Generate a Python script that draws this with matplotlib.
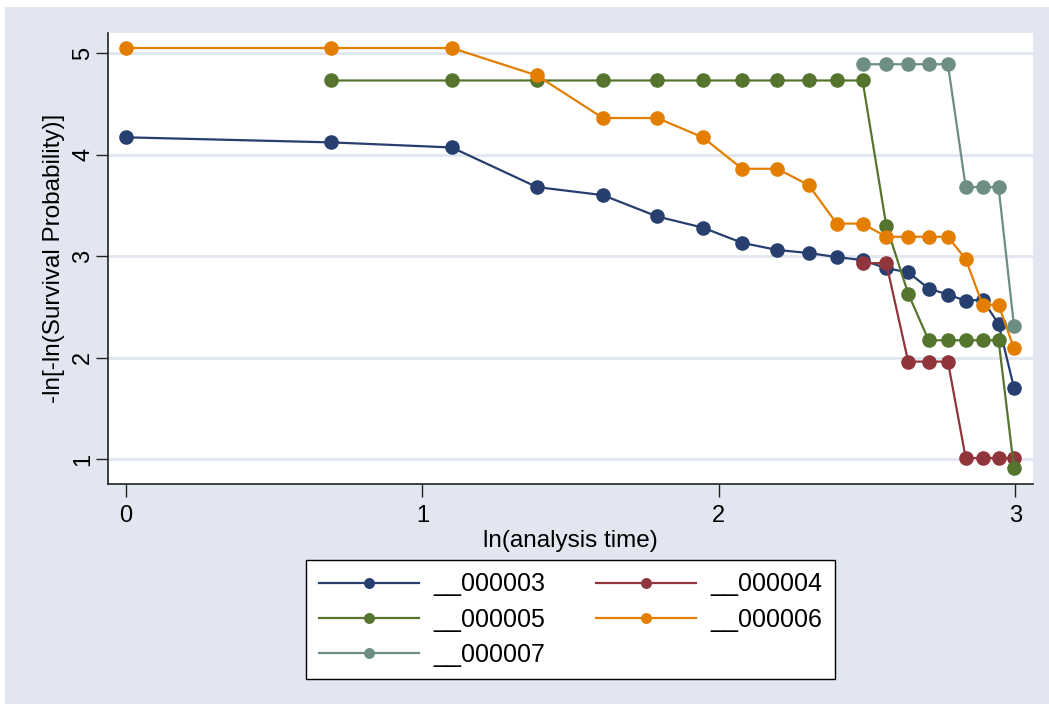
import matplotlib
matplotlib.use("Agg")
import matplotlib.pyplot as plt
from matplotlib.patches import Rectangle

plt.rcParams['font.family'] = ['Liberation Sans', 'DejaVu Sans']

# ln(analysis time) values
lnt = [0.0, 0.693, 1.099, 1.386, 1.609, 1.792, 1.946, 2.079, 2.197, 2.303,
       2.398, 2.485, 2.565, 2.639, 2.708, 2.773, 2.833, 2.890, 2.944, 2.996]

s003 = [4.17, 4.12, 4.07, 3.68, 3.60, 3.39, 3.28, 3.13, 3.06, 3.03,
        2.99, 2.96, 2.88, 2.84, 2.68, 2.62, 2.56, 2.57, 2.33, 1.70]
s004_x = lnt[11:]
s004 = [2.93, 2.93, 1.96, 1.96, 1.96, 1.01, 1.01, 1.01, 1.01]
s005_x = lnt[1:]
s005 = [4.73, 4.73, 4.73, 4.73, 4.73, 4.73, 4.73, 4.73, 4.73, 4.73,
        4.73, 3.30, 2.63, 2.17, 2.17, 2.17, 2.17, 2.17, 0.91]
s006 = [5.05, 5.05, 5.05, 4.78, 4.36, 4.36, 4.17, 3.86, 3.86, 3.70,
        3.32, 3.32, 3.19, 3.19, 3.19, 3.19, 2.97, 2.52, 2.52, 2.09]
s007_x = lnt[11:]
s007 = [4.89, 4.89, 4.89, 4.89, 4.89, 3.68, 3.68, 3.68, 2.31]

names = ["__000003", "__000004", "__000005", "__000006", "__000007"]
colors = ["#263f6e", "#90353b", "#55752f", "#e37e00", "#6e8e84"]
series = [(lnt, s003), (s004_x, s004), (s005_x, s005), (lnt, s006), (s007_x, s007)]

bg = "#e1e6f0"
fig = plt.figure(figsize=(10.49, 7.04), dpi=100, facecolor=bg)
# thin white strips on the top and left edges, like the Stata export
fig.patches.append(Rectangle((0, 0), 5 / 1049, 1, transform=fig.transFigure,
                             facecolor='white', edgecolor='none'))
fig.patches.append(Rectangle((0, 1 - 7 / 704), 1, 7 / 704, transform=fig.transFigure,
                             facecolor='white', edgecolor='none'))

ax = fig.add_axes([0.103, 0.3125, 0.882, 0.6405])
ax.set_facecolor("white")

lines = []
for (x, y), name, c in zip(series, names, colors):
    ln, = ax.plot(x, y, color=c, lw=1.6, marker='o', markersize=10.5,
                  markeredgewidth=0, label=name, zorder=3)
    lines.append(ln)

ax.set_xlim(-0.061, 3.061)
ax.set_ylim(0.754, 5.197)
ax.set_xticks([0, 1, 2, 3])
ax.set_yticks([1, 2, 3, 4, 5])
ax.grid(axis='y', color=bg, lw=2)
ax.set_axisbelow(True)

for side in ['top', 'right']:
    ax.spines[side].set_visible(False)
for side in ['left', 'bottom']:
    ax.spines[side].set_color('#222222')
    ax.spines[side].set_linewidth(1.2)

ax.tick_params(axis='both', direction='out', length=9, width=1, color='#222222',
               labelsize=17)
ax.tick_params(axis='x', pad=6)
ax.tick_params(axis='y', pad=1)
for lab in ax.get_yticklabels():
    lab.set_rotation(90)
    lab.set_va('center')

ax.set_xlabel("ln(analysis time)", fontsize=17.5, labelpad=2)
ax.set_ylabel("-ln[-ln(Survival Probability)]", fontsize=17.5, labelpad=5)

order = [0, 2, 4, 1, 3]
leg = fig.legend([lines[i] for i in order], [names[i] for i in order],
                 loc='center', bbox_to_anchor=(0.5439, 0.12), ncol=2,
                 fontsize=18, handlelength=4.0, handletextpad=0.6,
                 columnspacing=2.0, labelspacing=0.45, borderpad=0.5,
                 markerscale=0.75, fancybox=False, framealpha=1,
                 edgecolor='black', facecolor='white')
leg.get_frame().set_linewidth(1)

fig.savefig("out.png", dpi=100, facecolor=bg)
